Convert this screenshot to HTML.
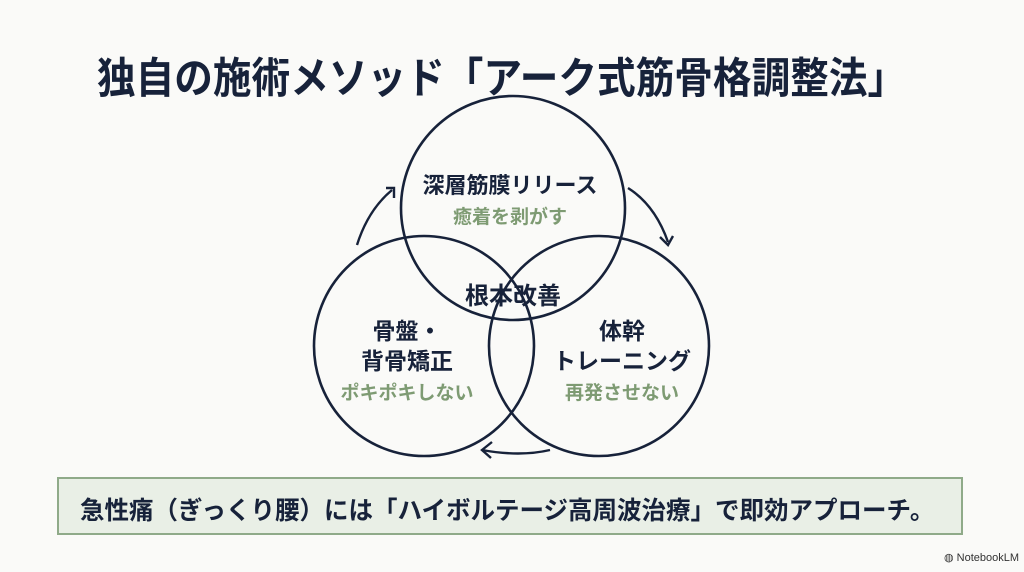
<!DOCTYPE html>
<html><head><meta charset="utf-8"><style>
body{margin:0;width:1024px;height:572px;background:#fafaf8;overflow:hidden;position:relative;font-family:"Liberation Sans","Noto Sans CJK JP",sans-serif;color:#17223a}
.t{position:absolute;white-space:nowrap;font-weight:bold}
</style></head><body>
<div class="t" style="left:97px;top:44px;font-size:42px;transform-origin:0 0;transform:scale(0.92,1.02)">独自の施術メソッド「アーク式筋骨格調整法」</div>
<svg width="1024" height="572" style="position:absolute;left:0;top:0">
<g fill="none" stroke="#17223a" stroke-width="2.6">
<circle cx="513" cy="208" r="112"/>
<circle cx="424" cy="346" r="110"/>
<circle cx="599" cy="346" r="110"/>
<path d="M357,245 Q368,210 392,190" stroke-width="2.4"/>
<path d="M386,188 L394,188 L394,198" stroke-width="2.4"/>
<path d="M628,188 Q655,205 668,242" stroke-width="2.4"/>
<path d="M660,237 L668,245 L673,236" stroke-width="2.4"/>
<path d="M550,450 Q520,457 482,450" stroke-width="2.4"/>
<path d="M492,442 L482,450 L491,458" stroke-width="2.4"/>
</g>
</svg>
<div class="t" style="left:410px;top:168px;width:200px;text-align:center;font-size:22px">深層筋膜リリース</div>
<div class="t" style="left:410px;top:202px;width:200px;text-align:center;font-size:19px;color:#7e9b73">癒着を剥がす</div>
<div class="t" style="left:413px;top:276px;width:200px;text-align:center;font-size:24px">根本改善</div>
<div class="t" style="left:312px;top:316px;width:190px;text-align:center;font-size:23px;line-height:30px">骨盤・<br>背骨矯正</div>
<div class="t" style="left:312px;top:378px;width:190px;text-align:center;font-size:19px;color:#7e9b73">ポキポキしない</div>
<div class="t" style="left:527px;top:316px;width:190px;text-align:center;font-size:23px;line-height:30px">体幹<br>トレーニング</div>
<div class="t" style="left:527px;top:378px;width:190px;text-align:center;font-size:19px;color:#7e9b73">再発させない</div>
<div style="position:absolute;left:57px;top:477px;width:906px;height:58px;border:2px solid #8faa89;background:#e9efe6;box-sizing:border-box"></div>
<div class="t" style="left:80px;top:491px;font-size:25px;transform-origin:0 0;transform:scaleX(0.98)">急性痛（ぎっくり腰）には「ハイボルテージ高周波治療」で即効アプローチ。</div>
<div class="t" style="left:944px;top:551px;font-size:11px;font-weight:normal;color:#333">◍ NotebookLM</div>
</body></html>
